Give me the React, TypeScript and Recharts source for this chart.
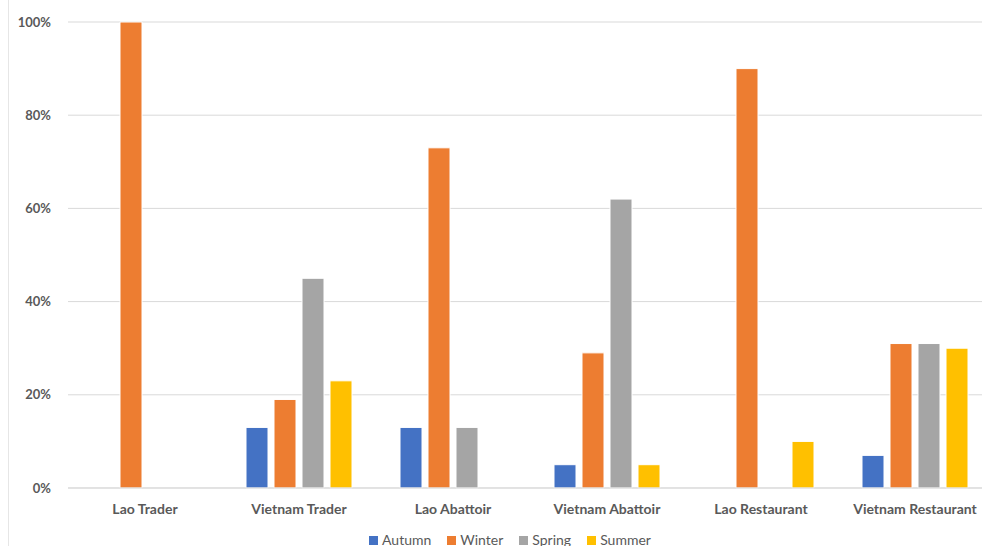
import { Bar, BarChart, CartesianGrid, Legend, XAxis, YAxis } from "recharts"

const sites = ["Lao Trader", "Vietnam Trader", "Lao Abattoir", "Vietnam Abattoir", "Lao Restaurant", "Vietnam Restaurant"]
const autumn = [0, 13, 13, 5, 0, 7]
const winter = [100, 19, 73, 29, 90, 31]
const spring = [0, 45, 13, 62, 0, 31]
const summer = [0, 23, 0, 5, 10, 30]
const yTicks = [0, 20, 40, 60, 80, 100]

const seasons = [
  { key: "Autumn", color: "#4472C4" },
  { key: "Winter", color: "#ED7D31" },
  { key: "Spring", color: "#A5A5A5" },
  { key: "Summer", color: "#FFC000" },
]

const rows = sites.map((site, i) => ({
  site,
  Autumn: autumn[i],
  Winter: winter[i],
  Spring: spring[i],
  Summer: summer[i],
}))

const font = "Lato, 'Open Sans', sans-serif"

// legend keeps series order (Autumn → Summer) instead of recharts' sorted payload
const SeasonLegend = () => (
  <div
    style={{
      display: "flex",
      justifyContent: "center",
      gap: 16,
      marginTop: 9,
      marginLeft: 28,
      fontSize: 14,
      color: "#595959",
      fontFamily: font,
      lineHeight: "18px",
    }}
  >
    {seasons.map((s) => (
      <div key={s.key} style={{ display: "flex", alignItems: "center", gap: 4 }}>
        <span style={{ width: 9, height: 9, background: s.color, display: "inline-block" }} />
        <span>{s.key}</span>
      </div>
    ))}
  </div>
)

export default function App() {
  return (
    <div
      style={{
        position: "fixed",
        left: 0,
        top: 0,
        width: 982,
        height: 546,
        overflow: "hidden",
        background: "#fff",
        fontFamily: font,
      }}
    >
      <div style={{ position: "absolute", left: 8, top: 0, bottom: 0, borderLeft: "1px solid #E6E6E6" }} />
      <BarChart
        width={992}
        height={546}
        data={rows}
        margin={{ top: 22, right: 0, left: 0, bottom: 0 }}
        barSize={22}
        barGap={6}
      >
        <CartesianGrid vertical={false} stroke="#D9D9D9" />
        <XAxis
          dataKey="site"
          height={34}
          axisLine={{ stroke: "#D9D9D9" }}
          tickLine={false}
          tickSize={0}
          tickMargin={16}
          tick={{ fill: "#595959", fontSize: 14, fontWeight: 700, fontFamily: font }}
        />
        <YAxis
          width={68}
          domain={[0, 100]}
          ticks={yTicks}
          tickFormatter={(v: number) => `${v}%`}
          axisLine={false}
          tickLine={false}
          tickSize={0}
          tickMargin={17}
          tick={{ fill: "#595959", fontSize: 13, fontWeight: 700, fontFamily: font }}
        />
        <Legend verticalAlign="bottom" wrapperStyle={{ height: 24 }} content={<SeasonLegend />} />
        {seasons.map((s) => (
          <Bar
            key={s.key}
            dataKey={s.key}
            fill={s.color}
            stroke="#fff"
            strokeWidth={1}
            isAnimationActive={false}
          />
        ))}
      </BarChart>
    </div>
  )
}
